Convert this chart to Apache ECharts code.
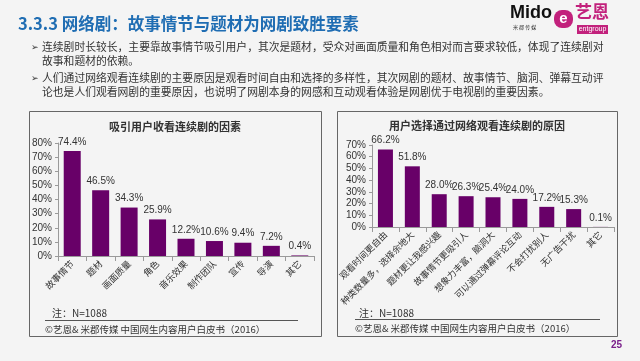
<!DOCTYPE html>
<html><head><meta charset="utf-8">
<script src="https://cdn.jsdelivr.net/npm/echarts@6/dist/echarts.min.js"></script>
<style>html,body{margin:0;padding:0;background:#f4f4f4;}#c{width:640px;height:361px;}</style>
</head><body><div id="c"></div>
<script>
var leftTitle = '吸引用户收看连续剧的因素';
var leftCats = ['故事情节','题材','画面质量','角色','音乐效果','制作团队','宣传','导演','其它'];
var leftVals = [74.4,46.5,34.3,25.9,12.2,10.6,9.4,7.2,0.4];
var rightTitle = '用户选择通过网络观看连续剧的原因';
var rightCats = ['观看时间更自由','种类数量多，选择余地大','题材更让我感兴趣','故事情节更吸引人','想象力丰富，脑洞大','可以通过弹幕评论互动','不会打扰别人','无广告干扰','其它'];
var rightVals = [66.2,51.8,28.0,26.3,25.4,24.0,17.2,15.3,0.1];
var leftTicks = [0,10,20,30,40,50,60,70,80];
var rightTicks = [0,10,20,30,40,50,60,70];

var FONT = '"Noto Sans CJK SC","Microsoft YaHei",sans-serif';
var chart = echarts.init(document.getElementById('c'), null, {renderer:'canvas'});
function xAx(idx, cats){
  return {type:'category', gridIndex:idx, data:cats,
    axisLine:{lineStyle:{color:'#9a9a9a'}}, axisTick:{show:true,lineStyle:{color:'#9a9a9a'}},
    axisLabel:{rotate:45, interval:0, fontSize:9, color:'#333', fontFamily:FONT, margin:6}};
}
function yAx(idx, ticks){
  return {type:'value', gridIndex:idx, min:ticks[0], max:ticks[ticks.length-1], interval:ticks[1]-ticks[0],
    splitLine:{show:false}, axisLine:{show:true,lineStyle:{color:'#9a9a9a'}},
    axisTick:{show:true,length:3,lineStyle:{color:'#9a9a9a'}},
    axisLabel:{formatter:'{value}%', fontSize:10, color:'#333', fontFamily:'Liberation Sans, Arial', margin:6}};
}
function bar(idx, vals, w){
  return {type:'bar', xAxisIndex:idx, yAxisIndex:idx, data:vals, barWidth:w,
    itemStyle:{color:'#680068'},
    label:{show:true, position:'top', formatter:function(p){return p.value.toFixed(1)+'%';},
      fontSize:10, color:'#333', fontFamily:'Liberation Sans, Arial', distance:4}};
}
var T = '#1f6db3';
function line(t, x, y){ return {type:'text', position:[x,y], style:{text:t, fill:'#333', font:'10.8px '+FONT, verticalAlign:'middle'}}; }
chart.setOption({
  backgroundColor:'#f4f4f4',
  animation:false,
  grid:[{left:58, top:143, width:256, height:113},{left:372, top:145, width:242, height:82}],
  xAxis:[xAx(0,leftCats), xAx(1,rightCats)],
  yAxis:[yAx(0,leftTicks), yAx(1,rightTicks)],
  series:[bar(0,leftVals,17), bar(1,rightVals,15)],
  graphic:[
    {type:'text', position:[18,24], style:{text:'3.3.3 网络剧：故事情节与题材为网剧致胜要素', fill:T, font:'bold 16.5px '+FONT, verticalAlign:'middle'}},
    {type:'text', position:[31,47], style:{text:'➢', fill:'#333', font:'9px '+FONT, verticalAlign:'middle'}},
    line('连续剧时长较长，主要靠故事情节吸引用户，其次是题材，受众对画面质量和角色相对而言要求较低，体现了连续剧对', 42, 47),
    line('故事和题材的依赖。', 42, 61),
    {type:'text', position:[31,78], style:{text:'➢', fill:'#333', font:'9px '+FONT, verticalAlign:'middle'}},
    line('人们通过网络观看连续剧的主要原因是观看时间自由和选择的多样性，其次网剧的题材、故事情节、脑洞、弹幕互动评', 42, 78),
    line('论也是人们观看网剧的重要原因，也说明了网剧本身的网感和互动观看体验是网剧优于电视剧的重要因素。', 42, 92),
    {type:'rect', shape:{x:29.5, y:111.5, width:292, height:225}, style:{fill:'none', stroke:'#666', lineWidth:1}},
    {type:'rect', shape:{x:337.5, y:111.5, width:280, height:225}, style:{fill:'none', stroke:'#666', lineWidth:1}},
    {type:'text', position:[175,127], style:{text:leftTitle, fill:'#333', font:'bold 11px '+FONT, align:'center', verticalAlign:'middle'}},
    {type:'text', position:[477,126], style:{text:rightTitle, fill:'#333', font:'bold 11px '+FONT, align:'center', verticalAlign:'middle'}},
    {type:'text', position:[52,313], style:{text:'注：N=1088', fill:'#333', font:'10px '+FONT, verticalAlign:'middle'}},
    {type:'line', shape:{x1:45, y1:320.5, x2:298, y2:320.5}, style:{stroke:'#555', lineWidth:1}},
    {type:'text', position:[45,329], style:{text:'©艺恩& 米郡传媒 中国网生内容用户白皮书（2016）', fill:'#333', font:'9.5px '+FONT, verticalAlign:'middle'}},
    {type:'text', position:[359,313], style:{text:'注：N=1088', fill:'#333', font:'10px '+FONT, verticalAlign:'middle'}},
    {type:'line', shape:{x1:355, y1:319.5, x2:600, y2:319.5}, style:{stroke:'#555', lineWidth:1}},
    {type:'text', position:[355,328], style:{text:'©艺恩& 米郡传媒 中国网生内容用户白皮书（2016）', fill:'#333', font:'9.5px '+FONT, verticalAlign:'middle'}},
    {type:'text', position:[611,340], style:{text:'25', fill:'#7a1f8a', font:'bold 10px Liberation Sans, Arial'}},
    {type:'text', position:[510,4], style:{text:'Mido', fill:'#111', font:'bold 18px Liberation Sans, Arial'}},
    {type:'text', position:[513,25], style:{text:'米 郡 传 媒', fill:'#333', font:'5px '+FONT}},
    {type:'rect', shape:{x:554, y:10, width:19, height:18, r:8}, style:{fill:'#c2217c'}},
    {type:'text', position:[563.5,19], style:{text:'e', fill:'#fff', font:'bold 15px Liberation Sans, Arial', align:'center', verticalAlign:'middle'}},
    {type:'text', position:[575,3], style:{text:'艺恩', fill:'#c2217c', font:'bold 17px '+FONT}},
    {type:'rect', shape:{x:577, y:25, width:31, height:9}, style:{fill:'#c2217c'}},
    {type:'text', position:[592.5,29.5], style:{text:'entgroup', fill:'#fff', font:'7px Liberation Sans, Arial', align:'center', verticalAlign:'middle'}}
  ]
});
</script></body></html>
